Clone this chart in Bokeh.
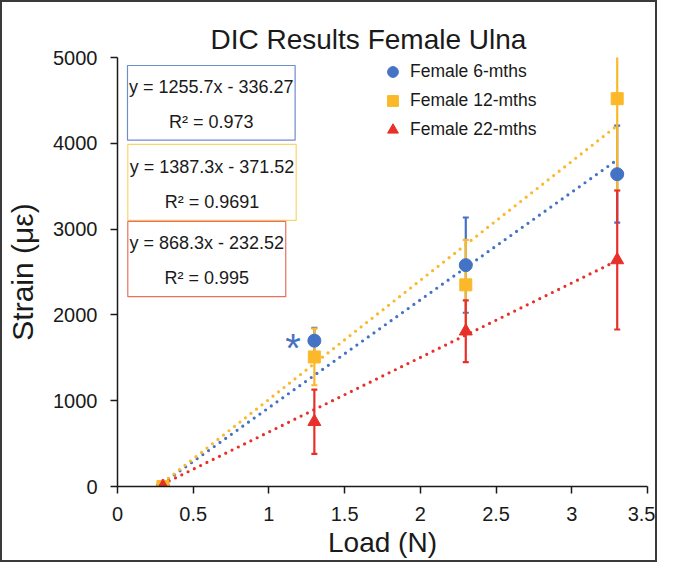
from bokeh.plotting import figure
from bokeh.models import (Range1d, FixedTicker, Whisker, TeeHead, ColumnDataSource,
                          Label, BoxAnnotation, Legend, LegendItem)
from bokeh.embed import file_html
from bokeh.resources import INLINE

# ---------------- data ----------------
load = [0.3, 1.3, 2.3, 3.3]
series_names = ["Female 6-mths", "Female 12-mths", "Female 22-mths"]
strain_6 = [0, 1700, 2580, 3640]
err_6 = [0, 150, 555, 565]
strain_12 = [0, 1510, 2350, 4520]
err_12 = [0, 330, 525, 1070]
strain_22 = [0, 755, 1810, 2640]
err_22 = [0, 375, 360, 810]
slopes = [1255.7, 1387.3, 868.3]
intercepts = [-336.27, -371.52, -232.52]
equations = ["y = 1255.7x - 336.27", "y = 1387.3x - 371.52", "y = 868.3x - 232.52"]
r2_labels = ["R\u00b2 = 0.973", "R\u00b2 = 0.9691", "R\u00b2 = 0.995"]
x_ticks = [0, 0.5, 1, 1.5, 2, 2.5, 3, 3.5]
x_tick_labels = ["0", "0.5", "1", "1.5", "2", "2.5", "3", "3.5"]
y_ticks = [0, 1000, 2000, 3000, 4000, 5000]
y_tick_labels = ["0", "1000", "2000", "3000", "4000", "5000"]

# ---------------- style ----------------
FONT = "Liberation Sans"
colors = ["#4472C4", "#FBB829", "#E8302A"]
box_colors = ["#6F8CCB", "#F9D46E", "#E8705F"]
markers = ["circle", "square", "triangle"]
marker_sizes = [13, 12, 13]

p = figure(width=657, height=562, output_backend="svg", toolbar_location=None,
           x_range=Range1d(0, 3.5), y_range=Range1d(0, 5000),
           min_border_left=115, min_border_right=12, min_border_top=55, min_border_bottom=78,
           title="DIC Results Female Ulna")
p.styles = {"border": "2px solid #3a3a3a"}
p.outline_line_color = None
p.grid.visible = False
p.background_fill_color = "white"
p.border_fill_color = "white"

p.title.text_font = FONT
p.title.text_font_size = "28px"
p.title.text_font_style = "normal"
p.title.text_color = "#1a1a1a"
p.title.align = "left"
p.title.offset = 93
p.title.standoff = 5

for ax in (p.xaxis[0], p.yaxis[0]):
    ax.axis_line_color = "#1a1a1a"
    ax.axis_line_width = 1.5
    ax.major_tick_line_color = "#1a1a1a"
    ax.major_tick_line_width = 1.5
    ax.major_tick_in = 0
    ax.major_tick_out = 7
    ax.minor_tick_line_color = None
    ax.major_label_text_font = FONT
    ax.major_label_text_font_size = "20px"
    ax.major_label_text_color = "#1a1a1a"
    ax.axis_label_text_font = FONT
    ax.axis_label_text_font_style = "normal"
    ax.axis_label_text_color = "#1a1a1a"

p.xaxis[0].axis_label_text_font_size = "28px"
p.yaxis[0].axis_label_text_font_size = "30px"
p.xaxis[0].ticker = FixedTicker(ticks=x_ticks)
p.xaxis[0].major_label_overrides = dict(zip(x_ticks, x_tick_labels))
p.yaxis[0].ticker = FixedTicker(ticks=y_ticks)
p.yaxis[0].major_label_overrides = dict(zip(y_ticks, y_tick_labels))
p.xaxis[0].axis_label = "Load (N)"
p.yaxis[0].axis_label = "Strain (\u03bc\u03b5)"
p.xaxis[0].major_label_standoff = 13
p.yaxis[0].major_label_standoff = 13
p.xaxis[0].axis_label_standoff = 3
p.yaxis[0].axis_label_standoff = 11

all_y = [strain_6, strain_12, strain_22]
all_err = [err_6, err_12, err_22]
legend_items = []
for i in range(3):
    c = colors[i]
    ys = all_y[i]
    es = all_err[i]
    bx = [x for x, e in zip(load, es) if e > 0]
    up = [y + e for y, e in zip(ys, es) if e > 0]
    lo = [y - e for y, e in zip(ys, es) if e > 0]
    src = ColumnDataSource(dict(x=bx, upper=up, lower=lo))
    w = Whisker(base="x", upper="upper", lower="lower", source=src,
                line_color=c, line_width=2.2,
                upper_head=TeeHead(size=6, line_color=c, line_width=2.2),
                lower_head=TeeHead(size=6, line_color=c, line_width=2.2))
    p.add_layout(w)

for i in range(3):
    c = colors[i]
    tx = [min(load), max(load)]
    ty = [slopes[i] * x + intercepts[i] for x in tx]
    p.line(tx, ty, line_color=c, line_width=3.2, line_dash="0 7", line_cap="round")

for i in range(3):
    r = p.scatter(load, all_y[i], marker=markers[i], size=marker_sizes[i],
                  fill_color=colors[i], line_color=colors[i])
    legend_items.append(LegendItem(label=series_names[i], renderers=[r]))

legend = Legend(items=legend_items, location=(262, 343))
legend.background_fill_alpha = 0
legend.border_line_color = None
legend.padding = 0
legend.margin = 0
legend.spacing = 2
legend.glyph_width = 27
legend.glyph_height = 27
legend.label_height = 27
legend.label_standoff = 4
legend.label_text_font = FONT
legend.label_text_font_size = "17.5px"
legend.label_text_color = "#1a1a1a"
p.add_layout(legend)

# ---------------- equation boxes (annotation positions in data units) ----------------
box_lr = [(0.066, 1.173), (0.068, 1.180), (0.068, 1.111)]
box_tb = [(4907, 4037), (3987, 3101), (3089, 2212)]
line1_y = [4656, 3728, 2838]
line2_y = [4249, 3321, 2433]
for i in range(3):
    l, r_ = box_lr[i]
    t, b = box_tb[i]
    p.add_layout(BoxAnnotation(left=l, right=r_, top=t, bottom=b,
                               fill_color="white", fill_alpha=1.0,
                               line_color=box_colors[i], line_width=1.2, line_alpha=1.0))
    cx = (l + r_) / 2
    p.add_layout(Label(x=cx, y=line1_y[i], text=equations[i], text_align="center",
                       text_baseline="middle", text_font=FONT, text_font_size="18px",
                       text_color="#1a1a1a"))
    p.add_layout(Label(x=cx, y=line2_y[i], text=r2_labels[i], text_align="center",
                       text_baseline="middle", text_font=FONT, text_font_size="18px",
                       text_color="#1a1a1a"))

p.add_layout(Label(x=1.16, y=1616, text="*", text_align="center", text_baseline="alphabetic",
                   text_font=FONT, text_font_size="40px", text_color=colors[0]))

open("out.html", "w").write(file_html(p, INLINE))
